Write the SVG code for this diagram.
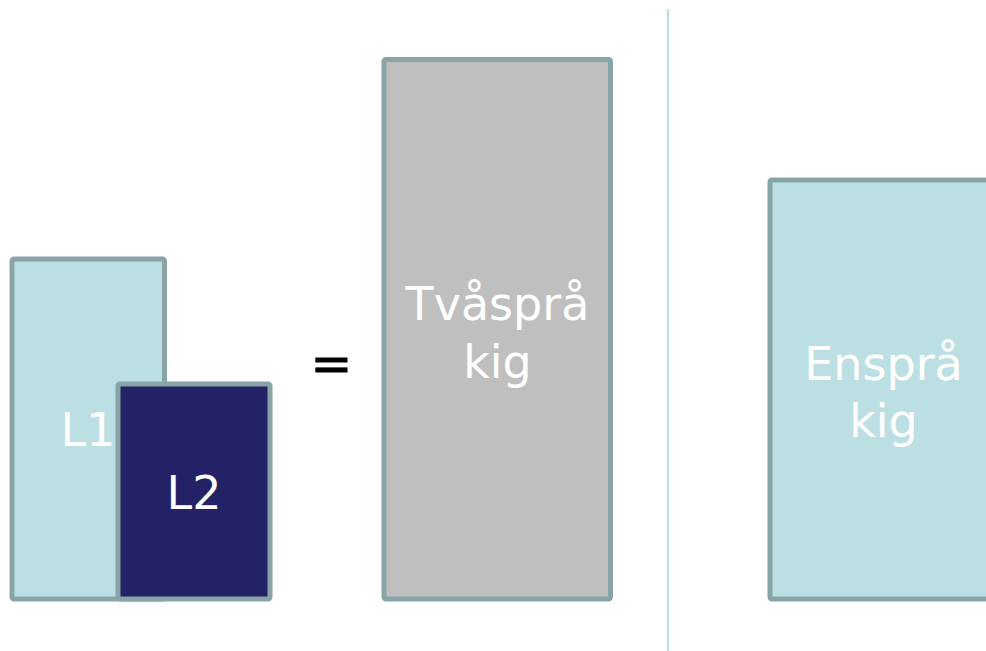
<svg xmlns="http://www.w3.org/2000/svg" width="986" height="651" viewBox="0 0 986 651">
<style>
.box{stroke:#88A4A7;stroke-width:5;stroke-linejoin:round}
.light{fill:#BBDFE2}
.t{font-family:"DejaVu Sans",Verdana,sans-serif;font-size:46px;fill:#FFFFFF;text-anchor:middle}
</style>
<rect width="986" height="651" fill="#FFFFFF"/>
<line id="divider" x1="668" y1="9" x2="668" y2="651" stroke="#BFE0E3" stroke-width="2.5"/>
<g id="L1">
<rect class="box light" x="12" y="259" width="152.5" height="340" rx="2"/>
<text class="t" x="88" y="446">L1</text>
</g>
<g id="L2">
<rect class="box" fill="#232267" x="118" y="384" width="152" height="215" rx="2"/>
<text class="t" x="194" y="509">L2</text>
</g>
<g id="equals">
<text x="331.5" y="381" font-family="DejaVu Sans,Verdana,sans-serif" font-size="50" fill="#000000" stroke="#000000" stroke-width="0.8" text-anchor="middle">=</text>
</g>
<g id="tvasprakig">
<rect class="box" fill="#BFBFBF" x="384" y="59.5" width="226.5" height="539.5" rx="2"/>
<text class="t" x="497.5" y="320">Tvåsprå</text>
<text class="t" x="497.5" y="378">kig</text>
</g>
<g id="enspråkig">
<rect class="box light" x="770" y="180" width="240" height="419" rx="2"/>
<text class="t" x="883.5" y="380">Ensprå</text>
<text class="t" x="883.5" y="437">kig</text>
</g>
<g id="connectors"></g>
</svg>
